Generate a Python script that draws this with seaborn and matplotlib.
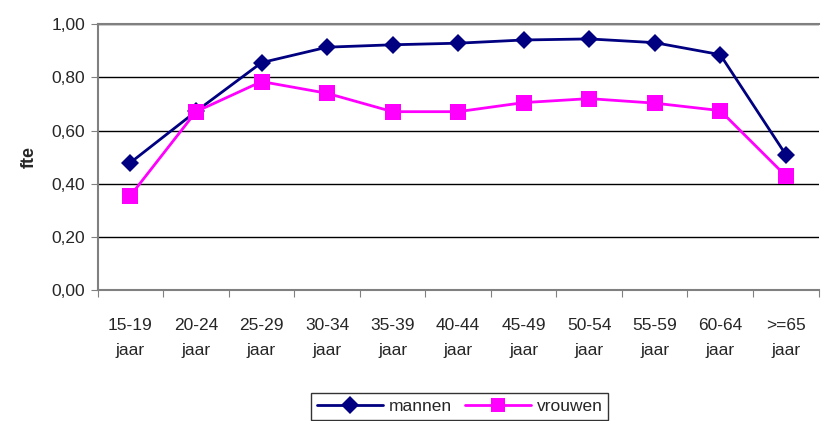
import pandas as pd
import matplotlib.pyplot as plt
import seaborn as sns
from matplotlib.ticker import FuncFormatter

# age groups and fte values
leeftijd = ['15-19\njaar', '20-24\njaar', '25-29\njaar', '30-34\njaar', '35-39\njaar',
            '40-44\njaar', '45-49\njaar', '50-54\njaar', '55-59\njaar', '60-64\njaar', '>=65\njaar']
mannen = [0.48, 0.672, 0.855, 0.913, 0.922, 0.928, 0.940, 0.944, 0.930, 0.885, 0.51]
vrouwen = [0.356, 0.671, 0.784, 0.740, 0.671, 0.671, 0.705, 0.720, 0.703, 0.675, 0.43]

df = pd.DataFrame({'leeftijd': leeftijd * 2,
                   'fte': mannen + vrouwen,
                   'geslacht': ['mannen'] * len(mannen) + ['vrouwen'] * len(vrouwen)})

sns.set_style('white')
plt.rcParams['font.family'] = ['Liberation Sans', 'DejaVu Sans']

fig = plt.figure(figsize=(8.21, 4.21), dpi=100)
ax = fig.add_axes([0.119, 0.31, 0.878, 0.633])

sns.lineplot(data=df, x='leeftijd', y='fte', hue='geslacht', style='geslacht',
             palette={'mannen': '#000080', 'vrouwen': '#FF00FF'},
             markers={'mannen': 'D', 'vrouwen': 's'}, dashes=False,
             markersize=9, linewidth=2, markeredgewidth=0, ax=ax, legend=False)
# bigger squares for vrouwen
ax.lines[1].set_markersize(11)

ax.set_xlim(-0.5, len(leeftijd) - 0.5)
ax.set_ylim(0, 1.0)
ax.set_yticks([0, 0.2, 0.4, 0.6, 0.8, 1.0])
ax.yaxis.set_major_formatter(FuncFormatter(lambda v, p: f'{v:.2f}'.replace('.', ',')))
ax.grid(axis='y', color='black', linewidth=1)
ax.set_axisbelow(True)

# category ticks between groups, labels in the middle
ax.set_xticks([i + 0.5 for i in range(-1, len(leeftijd))], minor=False)
ax.set_xticklabels([])
ax.set_xticks(range(len(leeftijd)), minor=True)
ax.set_xticklabels(leeftijd, minor=True, fontsize=12.5, linespacing=1.8)
ax.tick_params(axis='x', which='major', direction='out', length=5, color='#808080', bottom=True)
ax.tick_params(axis='x', which='minor', length=0, pad=20)
ax.tick_params(axis='y', direction='out', length=5, color='#808080', left=True, labelsize=12.5, pad=4)

for side in ['left', 'bottom', 'top', 'right']:
    ax.spines[side].set_color('#808080')
    ax.spines[side].set_linewidth(1.5)
ax.spines['right'].set_visible(False)

ax.set_xlabel('')
ax.set_ylabel('fte', fontsize=13, fontweight='bold', labelpad=10)

handles = [plt.Line2D([], [], color='#000080', marker='D', markersize=9, linewidth=2, markeredgewidth=0),
           plt.Line2D([], [], color='#FF00FF', marker='s', markersize=10, linewidth=2, markeredgewidth=0)]
leg = fig.legend(handles, ['mannen', 'vrouwen'], loc='upper center', bbox_to_anchor=(0.56, 1 - 393 / 421),
                 ncol=2, frameon=True, fancybox=False, fontsize=12.5, handlelength=3.8,
                 columnspacing=0.8, handletextpad=0.3, borderpad=0.35, borderaxespad=0)
leg.get_frame().set_edgecolor('black')
leg.get_frame().set_linewidth(1)

fig.savefig('out.png', dpi=100)
